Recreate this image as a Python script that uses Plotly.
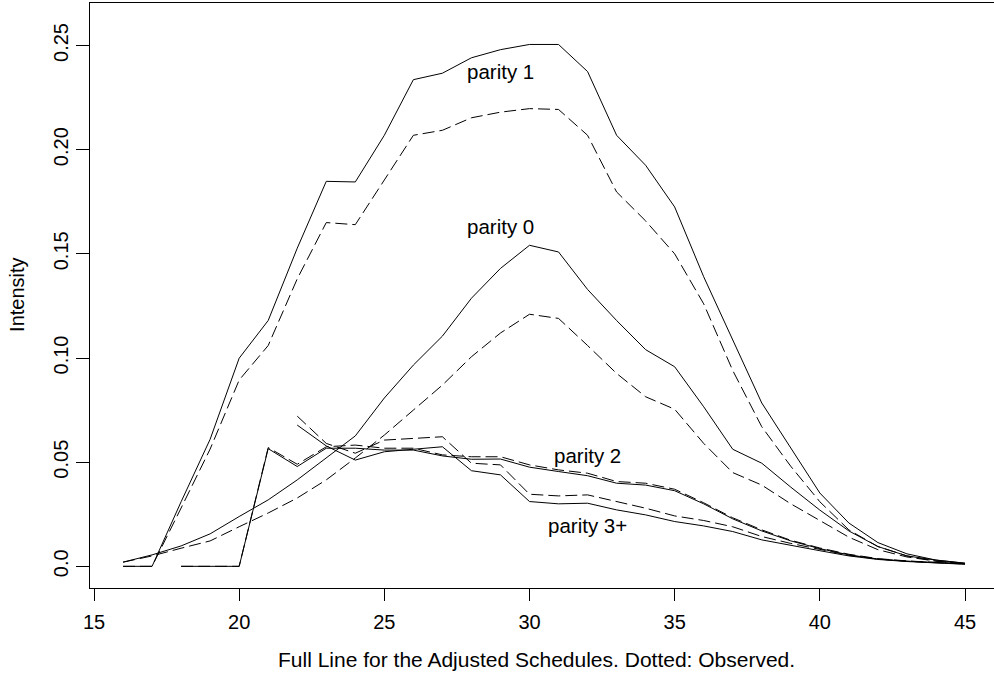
import plotly.graph_objects as go

ages = list(range(16, 46))

# Parity 0
p0_adj = [0.002, 0.0055, 0.0098, 0.0156, 0.0239, 0.0319, 0.0415, 0.052, 0.0626, 0.0808,
          0.0966, 0.1105, 0.1287, 0.143, 0.1541, 0.1509, 0.1329, 0.118, 0.104, 0.0958,
          0.0766, 0.0562, 0.0495, 0.038, 0.027, 0.017, 0.0095, 0.005, 0.003, 0.0015]
p0_obs = [0.002, 0.005, 0.0087, 0.0122, 0.019, 0.0256, 0.0328, 0.0415, 0.052, 0.063,
          0.075, 0.087, 0.1006, 0.112, 0.121, 0.119, 0.106, 0.0926, 0.0814, 0.0754,
          0.059, 0.045, 0.039, 0.030, 0.022, 0.014, 0.008, 0.0045, 0.0025, 0.0012]

# Parity 1
p1_adj = [0.0, 0.0, 0.031, 0.061, 0.0999, 0.118, 0.1527, 0.1848, 0.1845, 0.2069,
          0.2336, 0.2367, 0.2441, 0.248, 0.2505, 0.2505, 0.2375, 0.2069, 0.1925, 0.1725,
          0.139, 0.1087, 0.0784, 0.0568, 0.0352, 0.0208, 0.0114, 0.006, 0.003, 0.0015]
p1_obs = [0.0, 0.0, 0.028, 0.0563, 0.0894, 0.106, 0.138, 0.165, 0.164, 0.1853,
          0.2069, 0.2093, 0.2153, 0.218, 0.2197, 0.2193, 0.2069, 0.1797, 0.1658, 0.150,
          0.126, 0.094, 0.067, 0.048, 0.031, 0.0175, 0.0095, 0.005, 0.0025, 0.0012]

# Parity 2 (from age 18)
p2_adj = [None, None, 0.0, 0.0, 0.0, 0.0565, 0.0479, 0.0567, 0.0567, 0.0558,
          0.0558, 0.053, 0.0514, 0.0515, 0.0476, 0.0455, 0.0435, 0.0399, 0.039, 0.0363,
          0.030, 0.0228, 0.017, 0.0122, 0.0085, 0.0055, 0.0035, 0.0025, 0.0018, 0.0012]
p2_obs = [None, None, 0.0, 0.0, 0.0, 0.057, 0.049, 0.0574, 0.0582, 0.0567,
          0.0567, 0.0535, 0.0526, 0.0526, 0.0487, 0.0463, 0.0447, 0.0407, 0.0399, 0.037,
          0.0305, 0.0233, 0.0175, 0.0125, 0.0088, 0.0058, 0.0037, 0.0026, 0.0018, 0.0012]

# Parity 3+ (from age 22)
p3_adj = [None, None, None, None, None, None, 0.0678, 0.0578, 0.051, 0.055,
          0.0562, 0.0574, 0.0459, 0.0439, 0.0311, 0.030, 0.0303, 0.0271, 0.0247, 0.0215,
          0.0194, 0.0167, 0.0127, 0.010, 0.0075, 0.005, 0.0033, 0.0023, 0.0016, 0.001]
p3_obs = [None, None, None, None, None, None, 0.0721, 0.059, 0.0543, 0.0606,
          0.0614, 0.0622, 0.0495, 0.0487, 0.0346, 0.0338, 0.0343, 0.0311, 0.0279, 0.0242,
          0.022, 0.019, 0.0143, 0.011, 0.008, 0.0053, 0.0035, 0.0024, 0.0017, 0.0011]

labels = ["parity 0", "parity 1", "parity 2", "parity 3+"]
label_x = [29, 29, 32, 32]
label_y = [0.1629, 0.2375, 0.0532, 0.0198]

x_ticks = [15, 20, 25, 30, 35, 40, 45]
y_ticks = [0.0, 0.05, 0.10, 0.15, 0.20, 0.25]
y_ticktext = ["0.0", "0.05", "0.10", "0.15", "0.20", "0.25"]

FONT = "Liberation Sans, Arial, Helvetica, sans-serif"
DASH = "12px,5px"

fig = go.Figure()
series = [(p0_adj, "solid"), (p0_obs, DASH), (p1_adj, "solid"), (p1_obs, DASH),
          (p2_adj, "solid"), (p2_obs, DASH), (p3_adj, "solid"), (p3_obs, DASH)]
for ys, dash in series:
    fig.add_trace(go.Scatter(x=ages, y=ys, mode="lines", connectgaps=False,
                             line=dict(color="black", width=1, dash=dash),
                             showlegend=False, hoverinfo="skip"))

for t, lx, ly in zip(labels, label_x, label_y):
    fig.add_annotation(x=lx, y=ly, text=t, showarrow=False,
                       xanchor="center", yanchor="middle",
                       font=dict(family=FONT, size=20.5, color="black"))

fig.add_annotation(xref="paper", yref="paper", x=0.4934, y=-0.123,
                   text="Full Line for the Adjusted Schedules. Dotted: Observed.",
                   showarrow=False, xanchor="center", yanchor="middle",
                   font=dict(family=FONT, size=21, color="black"))
fig.add_annotation(xref="paper", yref="paper", x=-0.0808, y=0.5009,
                   text="Intensity", textangle=-90,
                   showarrow=False, xanchor="center", yanchor="middle",
                   font=dict(family=FONT, size=20, color="black"))

fig.update_layout(
    width=994, height=681,
    margin=dict(l=90, r=0, t=3, b=93),
    plot_bgcolor="white", paper_bgcolor="white",
    font=dict(family=FONT, size=20, color="black"),
    xaxis=dict(range=[14.862, 45.999], tickvals=x_ticks, ticks="outside",
               ticklen=12, tickcolor="black", tickwidth=1,
               showline=True, linecolor="black", linewidth=1, mirror=True,
               showgrid=False, zeroline=False, ticklabelstandoff=4,
               tickfont=dict(family=FONT, size=20, color="black")),
    yaxis=dict(range=[-0.0104, 0.2704], tickvals=y_ticks, ticktext=y_ticktext,
               ticks="outside", ticklen=13, tickcolor="black", tickwidth=1,
               tickangle=-90,
               showline=True, linecolor="black", linewidth=1, mirror=False,
               showgrid=False, zeroline=False, ticklabelstandoff=0,
               tickfont=dict(family=FONT, size=20, color="black")),
)

fig.write_html("out.html")
